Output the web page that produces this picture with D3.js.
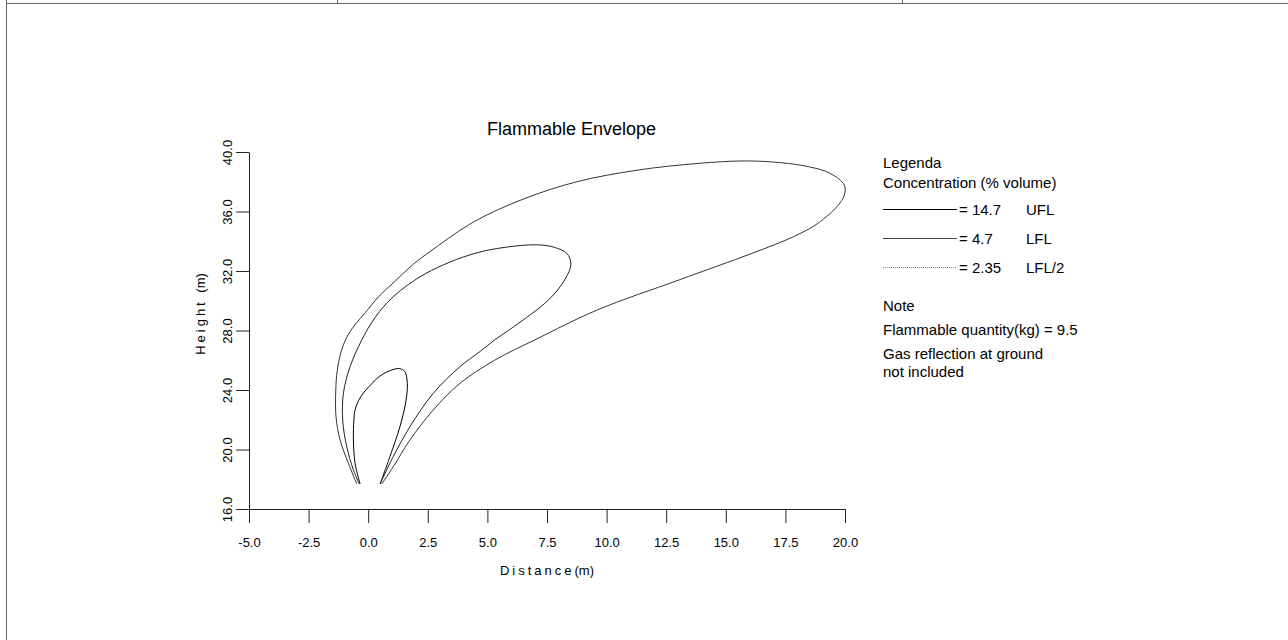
<!DOCTYPE html>
<html>
<head>
<meta charset="utf-8">
<script src="https://cdn.jsdelivr.net/npm/d3@7"></script>
<style>
  body { margin: 0; background: #fff; }
  svg { display: block; font-family: "Liberation Sans", Arial, sans-serif; }
</style>
</head>
<body>
<script>
// flammable envelope - 3 concentration contours
var xTicks = [-5.0, -2.5, 0.0, 2.5, 5.0, 7.5, 10.0, 12.5, 15.0, 17.5, 20.0];
var yTicks = [16.0, 20.0, 24.0, 28.0, 32.0, 36.0, 40.0];

var legendValues = ['= 14.7', '= 4.7', '= 2.35'];
var legendNames = ['UFL', 'LFL', 'LFL/2'];
var noteLines = ['Flammable quantity(kg) = 9.5', 'Gas reflection at ground', 'not included'];

// [distance, height]
var uflPts = [[-0.34,17.68],[-0.55,19.07],[-0.62,20.64],[-0.6,21.98],[-0.55,22.67],[-0.4,23.3],[-0.2,23.8],
  [0.05,24.25],[0.5,24.95],[1.05,25.38],[1.33,25.43],[1.54,25.23],[1.64,24.45],[1.59,23.33],[1.33,21.53],
  [0.91,19.52],[0.5,17.68]];

var lflPts = [[-0.37,17.68],[-0.62,18.62],[-0.9,20.19],[-1.07,21.98],[-1.04,23.78],[-0.76,25.57],[-0.27,27.36],
  [0.3,28.9],[1.05,30.27],[2.42,31.84],[4.48,33.19],[6.19,33.68],[7.21,33.75],[7.81,33.59],[8.33,33.19],
  [8.5,32.47],[8.24,31.4],[7.56,30.05],[6.1,28.25],[5.3,27.36],[4.7,26.6],[3.85,25.57],[2.73,23.78],
  [1.75,21.53],[1.05,19.52],[0.5,17.68]];

var lfl2Pts = [[-0.48,17.68],[-0.83,19.07],[-1.18,20.64],[-1.35,22.2],[-1.36,24.0],[-1.3,25.3],[-1.15,26.5],
  [-0.9,27.55],[-0.55,28.4],[-0.12,29.2],[0.42,30.25],[1.05,31.2],[1.85,32.4],[2.76,33.5],[4.48,35.35],
  [6.53,36.85],[8.75,38.0],[11.33,38.79],[13.89,39.24],[15.78,39.4],[17.32,39.28],[18.51,39.0],[19.37,38.57],
  [19.97,37.78],[19.97,37.1],[19.7,36.4],[18.86,35.2],[17.83,34.3],[16.1,33.19],[13.04,31.4],[9.61,29.38],
  [7.04,27.41],[5.3,26.0],[3.85,24.45],[2.73,22.66],[1.75,20.64],[1.05,18.84],[0.57,17.68]];

var svgWidth = 1288, svgHeight = 640;
var svg = d3.select('body').append('svg').attr('width', svgWidth).attr('height', svgHeight);

// page frame
svg.append('line').attr('x1', 6.5).attr('x2', 6.5).attr('y1', 0).attr('y2', svgHeight).attr('stroke', '#666');
svg.append('line').attr('x1', 6).attr('x2', svgWidth).attr('y1', 3.5).attr('y2', 3.5).attr('stroke', '#666');
[337.5, 902.5].forEach(function (px) {
  svg.append('line').attr('x1', px).attr('x2', px).attr('y1', 0).attr('y2', 3).attr('stroke', '#666');
});

var x = d3.scaleLinear().domain([-5, 20]).range([249, 845]);
var y = d3.scaleLinear().domain([16, 40]).range([509, 152]);
var fmt = function (d) { return d.toFixed(1); };

var xAxis = svg.append('g').attr('transform', 'translate(0,509)')
  .call(d3.axisBottom(x).tickValues(xTicks).tickSize(14).tickSizeOuter(0).tickPadding(15).tickFormat(fmt));
var yAxis = svg.append('g').attr('transform', 'translate(249,0)')
  .call(d3.axisLeft(y).tickValues(yTicks).tickSize(13).tickSizeOuter(0).tickFormat(fmt));

[xAxis, yAxis].forEach(function (g) {
  g.selectAll('path, line').attr('stroke', '#222');
  g.selectAll('text').attr('font-family', '"Liberation Sans", Arial, sans-serif').attr('font-size', 13).attr('fill', '#000');
});
yAxis.selectAll('text')
  .attr('x', null).attr('dy', null)
  .attr('text-anchor', 'middle')
  .attr('transform', 'translate(-17,0) rotate(-90)');

// axis titles
var xt = svg.append('text').attr('x', 547).attr('y', 575).attr('text-anchor', 'middle').attr('font-size', 13);
xt.append('tspan').attr('letter-spacing', 3).text('Distance');
xt.append('tspan').text('(m)');
var yt = svg.append('text').attr('transform', 'translate(205,314) rotate(-90)').attr('text-anchor', 'middle').attr('font-size', 13);
yt.append('tspan').attr('letter-spacing', 3).text('Height ');
yt.append('tspan').text('(m)');

svg.append('text').attr('x', 487).attr('y', 135).attr('font-size', 18).text('Flammable Envelope');

// contours
var line = d3.line()
  .x(function (d) { return x(d[0]); })
  .y(function (d) { return y(d[1]); })
  .curve(d3.curveCatmullRom.alpha(0.5));

var series = [
  { pts: uflPts, color: '#000' },
  { pts: lflPts, color: '#222' },
  { pts: lfl2Pts, color: '#333' }
];
svg.selectAll('path.contour')
  .data(series)
  .enter()
  .append('path')
  .attr('class', 'contour')
  .attr('d', function (d) { return line(d.pts); })
  .attr('fill', 'none')
  .attr('stroke', function (d) { return d.color; })
  .attr('stroke-width', 1);

// legend
var lg = svg.append('g').attr('font-size', 15);
lg.append('text').attr('x', 883).attr('y', 168).text('Legenda');
lg.append('text').attr('x', 883).attr('y', 188).text('Concentration (% volume)');
var legStyles = [
  { color: '#000', dash: null },
  { color: '#444', dash: null },
  { color: '#888', dash: '1,1' }
];
legendValues.forEach(function (v, i) {
  var ly = 209.5 + i * 29;
  lg.append('line').attr('x1', 883).attr('x2', 957).attr('y1', ly).attr('y2', ly)
    .attr('stroke', legStyles[i].color).attr('stroke-dasharray', legStyles[i].dash);
  lg.append('text').attr('x', 959).attr('y', ly + 5).text(v);
  lg.append('text').attr('x', 1026).attr('y', ly + 5).text(legendNames[i]);
});
lg.append('text').attr('x', 883).attr('y', 311).text('Note');
noteLines.forEach(function (t, i) {
  lg.append('text').attr('x', 883).attr('y', [335, 359, 377][i]).text(t);
});
</script>
</body>
</html>
